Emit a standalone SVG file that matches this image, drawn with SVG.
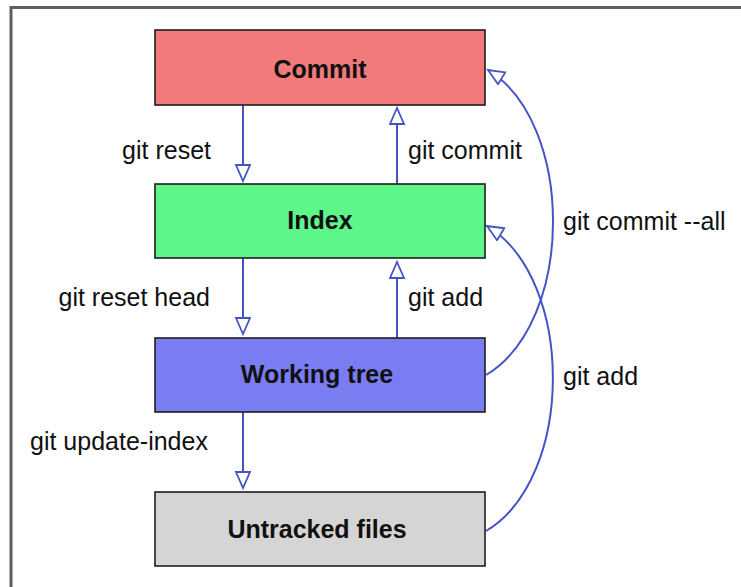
<svg xmlns="http://www.w3.org/2000/svg" width="741" height="587" viewBox="0 0 741 587">
<style>
.box{stroke:#1e1e1e;stroke-width:1.6}
.title{font-family:"Liberation Sans",Arial,sans-serif;font-size:25px;font-weight:bold;fill:#111;text-anchor:middle}
.lbl{font-family:"Liberation Sans",Arial,sans-serif;font-size:25px;fill:#111}
.edge{fill:none;stroke:#4453c6;stroke-width:2;marker-end:url(#hollow)}
</style>
<defs>
<marker id="hollow" markerUnits="userSpaceOnUse" markerWidth="20" markerHeight="18" refX="17" refY="8" orient="auto" viewBox="0 0 20 18">
<path d="M1,1 L17,8 L1,15 Z" fill="#fff" stroke="#4453c6" stroke-width="1.8" stroke-linejoin="miter"/>
</marker>
</defs>
<rect width="741" height="587" fill="#fff"/>
<path d="M11,587 V7.5 H741" fill="none" stroke="#5f5f5f" stroke-width="3"/>
<g id="connectors">
<path class="edge" d="M243,105 V181"/>
<path class="edge" d="M397,184 V108"/>
<path class="edge" d="M243,258 V334"/>
<path class="edge" d="M397,338 V262"/>
<path class="edge" d="M243,412 V488"/>
<path class="edge" d="M486,375 C575,322 575,123 488,70"/>
<path class="edge" d="M486,531 C575,478 575,279 487,226"/>
<text class="lbl" x="211" y="159" text-anchor="end">git reset</text>
<text class="lbl" x="408" y="159">git commit</text>
<text class="lbl" x="210" y="306" text-anchor="end">git reset head</text>
<text class="lbl" x="408" y="306">git add</text>
<text class="lbl" x="30" y="450">git update-index</text>
<text class="lbl" x="563" y="230">git commit --all</text>
<text class="lbl" x="563" y="385">git add</text>
</g>
<g id="commit">
<rect class="box" x="155" y="30" width="330" height="75" fill="#f37a7a"/>
<text class="title" x="320" y="78">Commit</text>
</g>
<g id="index">
<rect class="box" x="155" y="184" width="330" height="74" fill="#5ef58a"/>
<text class="title" x="320" y="229">Index</text>
</g>
<g id="working-tree">
<rect class="box" x="155" y="338" width="330" height="74" fill="#7a7df2"/>
<text class="title" x="317" y="383">Working tree</text>
</g>
<g id="untracked-files">
<rect class="box" x="155" y="492" width="330" height="74" fill="#d5d5d5"/>
<text class="title" x="317" y="538">Untracked files</text>
</g>
</svg>
